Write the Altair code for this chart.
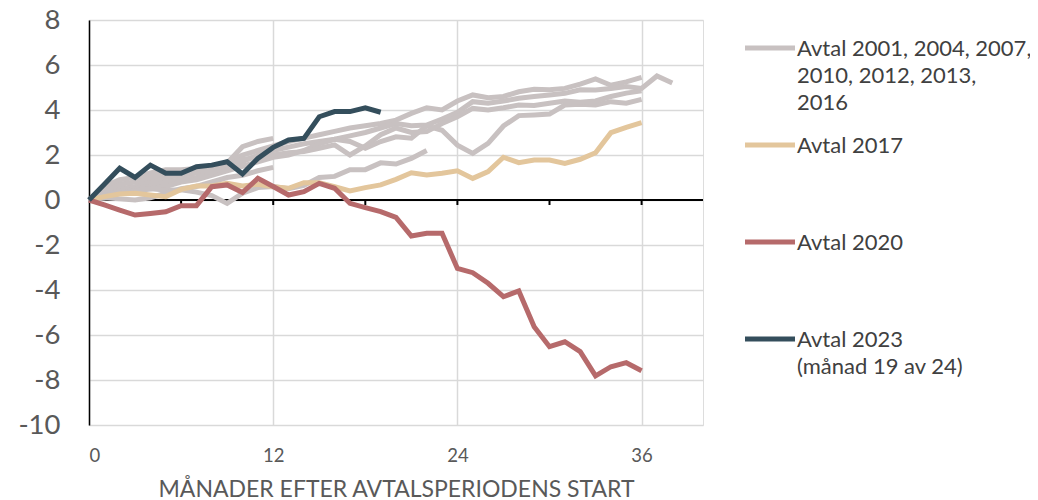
import altair as alt
import pandas as pd

# ---- data ----
gray_1 = [0, 0.3, 0.5, 0.6, 0.8, 1.0, 1.1, 1.2, 1.4, 1.7, 2.0, 2.2, 2.4, 2.6, 2.75, 2.9, 3.05, 3.2, 3.3, 3.4,
          3.55, 3.85, 4.1, 4.0, 4.4, 4.67, 4.55, 4.6, 4.81, 4.92, 4.9, 4.96, 5.15, 5.38, 5.1, 5.25, 5.45]
gray_2 = [0, 0.2, 0.4, 0.5, 0.6, 0.8, 0.9, 1.0, 1.2, 1.4, 1.7, 2.0, 2.2, 2.35, 2.5, 2.6, 2.7, 2.85, 3.0, 3.2,
          3.4, 3.3, 3.33, 3.6, 3.9, 4.37, 4.3, 4.4, 4.52, 4.6, 4.67, 4.74, 4.9, 4.89, 4.96, 5.04, 4.96, 5.51, 5.2]
gray_3 = [0, 0.1, 0.3, 0.4, 0.5, 0.6, 0.8, 0.9, 1.1, 1.3, 1.5, 1.7, 1.9, 2.0, 2.2, 2.5, 2.7, 2.6, 2.3, 2.6,
          2.81, 2.75, 3.3, 3.1, 2.44, 2.07, 2.52, 3.29, 3.75, 3.78, 3.82, 4.22, 4.25, 4.22, 4.37, 4.3, 4.47]
gray_4 = [0, 0.4, 0.7, 0.8, 1.0, 1.2, 1.3, 1.3, 1.4, 1.6, 1.8, 1.9, 2.0, 2.1, 2.15, 2.3, 2.45, 2.0, 2.4, 2.9,
          3.2, 3.0, 3.04, 3.4, 3.7, 4.07, 4.0, 4.1, 4.22, 4.2, 4.3, 4.4, 4.35, 4.4, 4.6, 4.75, 4.85]
gray_5 = [0, 0.2, 0.3, 0.4, 0.5, 0.45, 0.45, 0.35, 0.2, -0.15, 0.3, 0.55, 0.6, 0.5, 0.65, 1.0, 1.05, 1.35,
          1.35, 1.65, 1.6, 1.85, 2.2]
gray_6 = [0, 0.6, 0.9, 1.0, 1.2, 1.35, 1.35, 1.4, 1.2, 1.65, 2.37, 2.6, 2.74]
gray_7 = [0, 0.1, 0.05, 0.0, 0.1, 0.3, 0.5, 0.6, 0.8, 1.0, 1.1, 1.3, 1.45]

avtal_2017 = [0, 0.15, 0.27, 0.3, 0.22, 0.15, 0.47, 0.62, 0.62, 0.74, 0.62, 0.7, 0.59, 0.52, 0.77, 0.77, 0.59,
              0.4, 0.55, 0.67, 0.92, 1.21, 1.11, 1.19, 1.3, 0.96, 1.26, 1.9, 1.66, 1.78, 1.78, 1.63, 1.81, 2.1,
              2.99, 3.23, 3.44]
avtal_2020 = [0, -0.22, -0.45, -0.67, -0.6, -0.52, -0.25, -0.25, 0.59, 0.67, 0.33, 0.96, 0.6, 0.22, 0.37, 0.74,
              0.52, -0.15, -0.34, -0.52, -0.77, -1.6, -1.48, -1.48, -3.04, -3.23, -3.7, -4.3, -4.04, -5.63,
              -6.52, -6.3, -6.74, -7.82, -7.41, -7.23, -7.59]
avtal_2023 = [0, 0.7, 1.41, 1.0, 1.55, 1.19, 1.19, 1.48, 1.55, 1.7, 1.16, 1.85, 2.34, 2.67, 2.74, 3.7, 3.93,
              3.93, 4.1, 3.9]

legend_labels = ["Avtal 2001, 2004, 2007,|2010, 2012, 2013,|2016", "Avtal 2017", "Avtal 2020",
                 "Avtal 2023|(månad 19 av 24)"]
legend_colors = ["#C8C1C1", "#E3C69C", "#B66A6B", "#344E5C"]
x_tick_labels = [0, 12, 24, 36]
x_minor_ticks = [6, 12, 18, 24, 30, 36]
y_ticks = [-10, -8, -6, -4, -2, 0, 2, 4, 6, 8]
x_title = "MÅNADER EFTER AVTALSPERIODENS START"

# ---- tables ----
gray_rows = []
for i, vals in enumerate([gray_1, gray_2, gray_3, gray_4, gray_5, gray_6, gray_7]):
    for m, v in enumerate(vals):
        gray_rows.append({"month": m, "value": v, "series": f"g{i}", "group": legend_labels[0]})
df_gray = pd.DataFrame(gray_rows)

other_rows = []
for lab, vals in zip(legend_labels[1:], [avtal_2017, avtal_2020, avtal_2023]):
    for m, v in enumerate(vals):
        other_rows.append({"month": m, "value": v, "series": lab, "group": lab})
df_other = pd.DataFrame(other_rows)

df_zero = pd.DataFrame({"value": [0]})
df_ticks = pd.DataFrame({"month": x_minor_ticks, "value": [0] * len(x_minor_ticks)})

W, H = 614, 405
FONT = "Lato"
TXT = "#595959"
GRID = "#D9D9D9"

xscale = alt.Scale(domain=[0, 40], nice=False, zero=False)
yscale = alt.Scale(domain=[-10, 8], nice=False)

y_enc = alt.Y("value:Q", scale=yscale,
              axis=alt.Axis(values=y_ticks, title=None, domain=True, domainColor="#000000", domainWidth=1.5,
                            ticks=False, labelFontSize=27.5, labelFont=FONT, labelColor=TXT, labelPadding=29,
                            labelExpr="'' + datum.value",
                            grid=True, gridColor=GRID, gridWidth=1.5))

x_enc = alt.X("month:Q", scale=xscale,
              axis=alt.Axis(values=x_tick_labels, title=x_title, domain=False, ticks=False,
                            labelFontSize=18.5, labelFont=FONT, labelColor=TXT, labelPadding=21,
                            titleFontSize=23, titleFont=FONT, titleColor=TXT, titleFontWeight="normal",
                            titlePadding=14, grid=True, gridColor=GRID, gridWidth=1.5))

legend = alt.Legend(orient="none", legendX=656, legendY=4, title=None, direction="vertical",
                    labelExpr="split(datum.label, '|')", labelFontSize=22, labelFont=FONT,
                    labelColor="#404040", labelLimit=400, labelBaseline="top", labelOffset=22,
                    symbolType="M-1.2,0.72L2.8,0.72", symbolSize=625, symbolStrokeWidth=5,
                    rowPadding=7, gridAlign="all", columns=1, padding=0)

color = alt.Color("group:N", scale=alt.Scale(domain=legend_labels, range=legend_colors), legend=legend)

zero_line = alt.Chart(df_zero).mark_rule(color="#000000", strokeWidth=2).encode(y=y_enc)
zero_ticks = alt.Chart(df_ticks).mark_rule(color="#000000", strokeWidth=2, y2Offset=5).encode(
    x=x_enc, y=y_enc, y2="value:Q")
gray_layer = alt.Chart(df_gray).mark_line(strokeWidth=5).encode(
    x=x_enc, y=y_enc, color=color, detail="series:N")
other_layer = alt.Chart(df_other).mark_line(strokeWidth=5).encode(
    x=x_enc, y=y_enc, color=color, detail="series:N")

chart = alt.layer(zero_line, zero_ticks, gray_layer, other_layer).properties(
    width=W, height=H,
    padding={"left": 81, "top": 12, "right": 327, "bottom": 80},
    autosize=alt.AutoSizeParams(type="none"),
).configure_view(stroke=None).configure(font=FONT, style={"guide-label": {"lineHeight": 26.8}})

chart.save("out.html", embed_options={"renderer": "svg", "actions": False})
